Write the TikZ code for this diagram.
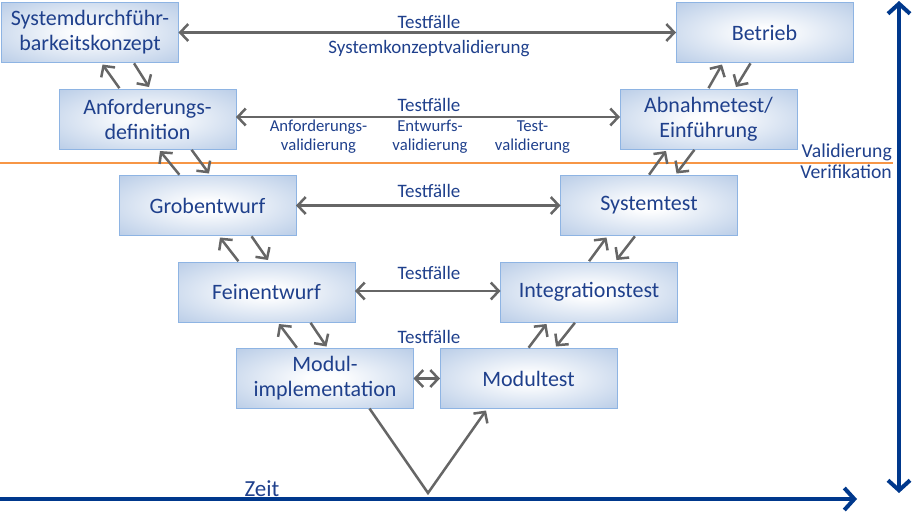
\documentclass[tikz,border=0pt]{standalone}
\usepackage{fontspec}
\setmainfont{Carlito}
\usetikzlibrary{arrows.meta,calc}
\definecolor{txtblue}{RGB}{31,64,140}
\definecolor{boxblue}{RGB}{176,198,228}
\definecolor{boxborder}{RGB}{142,180,227}
\definecolor{arrgray}{RGB}{102,102,102}
\definecolor{axisblue}{RGB}{0,56,140}
\definecolor{lineorange}{RGB}{247,150,70}
\pgfdeclareradialshading{boxshade}{\pgfpoint{0bp}{0bp}}{color(0bp)=(white); color(5bp)=(white!97!boxblue); color(40bp)=(boxblue); color(100bp)=(boxblue)}
\tikzset{
  vbox/.style={draw=boxborder, line width=1pt, shading=boxshade, minimum width=177pt, minimum height=60pt, inner sep=0pt, outer sep=0pt, align=center, text=txtblue, font=\fontsize{22}{25}\selectfont},
  garrow/.style={draw=arrgray, line width=2.5pt, -{Straight Barb[length=8pt,width=17pt]}},
  gdarrow/.style={draw=arrgray, line width=2.5pt, {Straight Barb[length=8pt,width=17pt]}-{Straight Barb[length=8pt,width=17pt]}},
  barrow/.style={draw=axisblue, line width=4pt, -{Straight Barb[length=10pt,width=22pt]}},
  lbl/.style={text=txtblue, font=\fontsize{19}{22}\selectfont, inner sep=0pt, anchor=base},
  slbl/.style={text=txtblue, font=\fontsize{16.7}{19}\selectfont, inner sep=0pt, align=center},
  vlbl/.style={text=txtblue, font=\fontsize{19.7}{22}\selectfont, inner sep=0pt, anchor=base east},
}
\begin{document}
\begin{tikzpicture}[x=1pt,y=-1pt]
\useasboundingbox (0,0) rectangle (912,512);
% boxes
\node[vbox] (sys) at (90,32.5) {Systemdurchführ-\\barkeitskonzept};
\node[vbox] (bet) at (764.5,32.5) {Betrieb};
\node[vbox] (anf) at (147.5,119) {Anforderungs-\\definition};
\node[vbox] (abn) at (708.5,119) {Abnahmetest/\\Einführung};
\node[vbox] (grob) at (207.5,205.5) {Grobentwurf};
\node[vbox] (syst) at (649,205.5) {Systemtest};
\node[vbox] (fein) at (266.5,292) {Feinentwurf};
\node[vbox] (integ) at (589,292) {Integrationstest};
\node[vbox] (modul) at (325,378.5) {Modul-\\implementation};
\node[vbox] (modt) at (528.5,378.5) {Modultest};
% orange line
\coordinate (ol) at (0,163);
\coordinate (or) at (893,163);
\draw[lineorange, line width=2.5pt] (ol) -- (or);
\node[vlbl] (val) at (892,157) {Validierung};
\node[vlbl] (ver) at (892,178) {Verifikation};
% horizontal arrows
\draw[gdarrow] (sys.east) -- (bet.west);
\draw[gdarrow] ($(anf.east)+(0,-2)$) -- ($(abn.west)+(0,-2)$);
\draw[gdarrow] (grob.east) -- (syst.west);
\draw[gdarrow] ($(fein.east)+(0,-1)$) -- ($(integ.west)+(0,-1)$);
\draw[gdarrow] (modul.east) -- (modt.west);
% labels
\node[lbl] (t1) at (429,28) {Testfälle};
\node[lbl] (t1b) at (429,53) {Systemkonzeptvalidierung};
\node[lbl] (t2) at (429,111) {Testfälle};
\node[slbl] (v1) at (318.5,137) {Anforderungs-\\validierung};
\node[slbl] (v2) at (430,137) {Entwurfs-\\validierung};
\node[slbl] (v3) at (532.5,137) {Test-\\validierung};
\node[lbl] (t3) at (429,197) {Testfälle};
\node[lbl] (t4) at (429,279) {Testfälle};
\node[lbl] (t5) at (429,343) {Testfälle};
% left diagonal pairs
\foreach \U/\D in {sys/anf, anf/grob, grob/fein, fein/modul}{
  \draw[garrow, shorten <=1pt] ($(\D.north west)+(61,0)$) -- ($(\U.south west)+(101,2)$);
  \draw[garrow, shorten <=1pt] ($(\U.south west)+(132,0)$) -- ($(\D.north west)+(90,-2)$);
}
% right diagonal pairs
\foreach \U/\D in {bet/abn, abn/syst, syst/integ, integ/modt}{
  \draw[garrow, shorten <=1pt] ($(\D.north west)+(88,0)$) -- ($(\U.south west)+(46,2)$);
  \draw[garrow, shorten <=1pt] ($(\U.south west)+(75,0)$) -- ($(\D.north west)+(116,-2)$);
}
% V arrow
\coordinate (vbot) at (428,493);
\draw[garrow, line join=miter] ($(modul.south west)+(133,0)$) -- (vbot) -- ($(modt.south west)+(46,2)$);
% axes
\coordinate (zs) at (0,499);
\coordinate (ze) at (857,499);
\draw[barrow] (zs) -- (ze);
\node[text=txtblue, font=\fontsize{23}{26}\selectfont, inner sep=0pt, anchor=base] (zeit) at (262,496) {Zeit};
\coordinate (vt) at (899,1);
\coordinate (vb) at (899,493);
\draw[barrow, {Straight Barb[length=10pt,width=22pt]}-{Straight Barb[length=10pt,width=22pt]}] (vb) -- (vt);
\end{tikzpicture}
\end{document}
